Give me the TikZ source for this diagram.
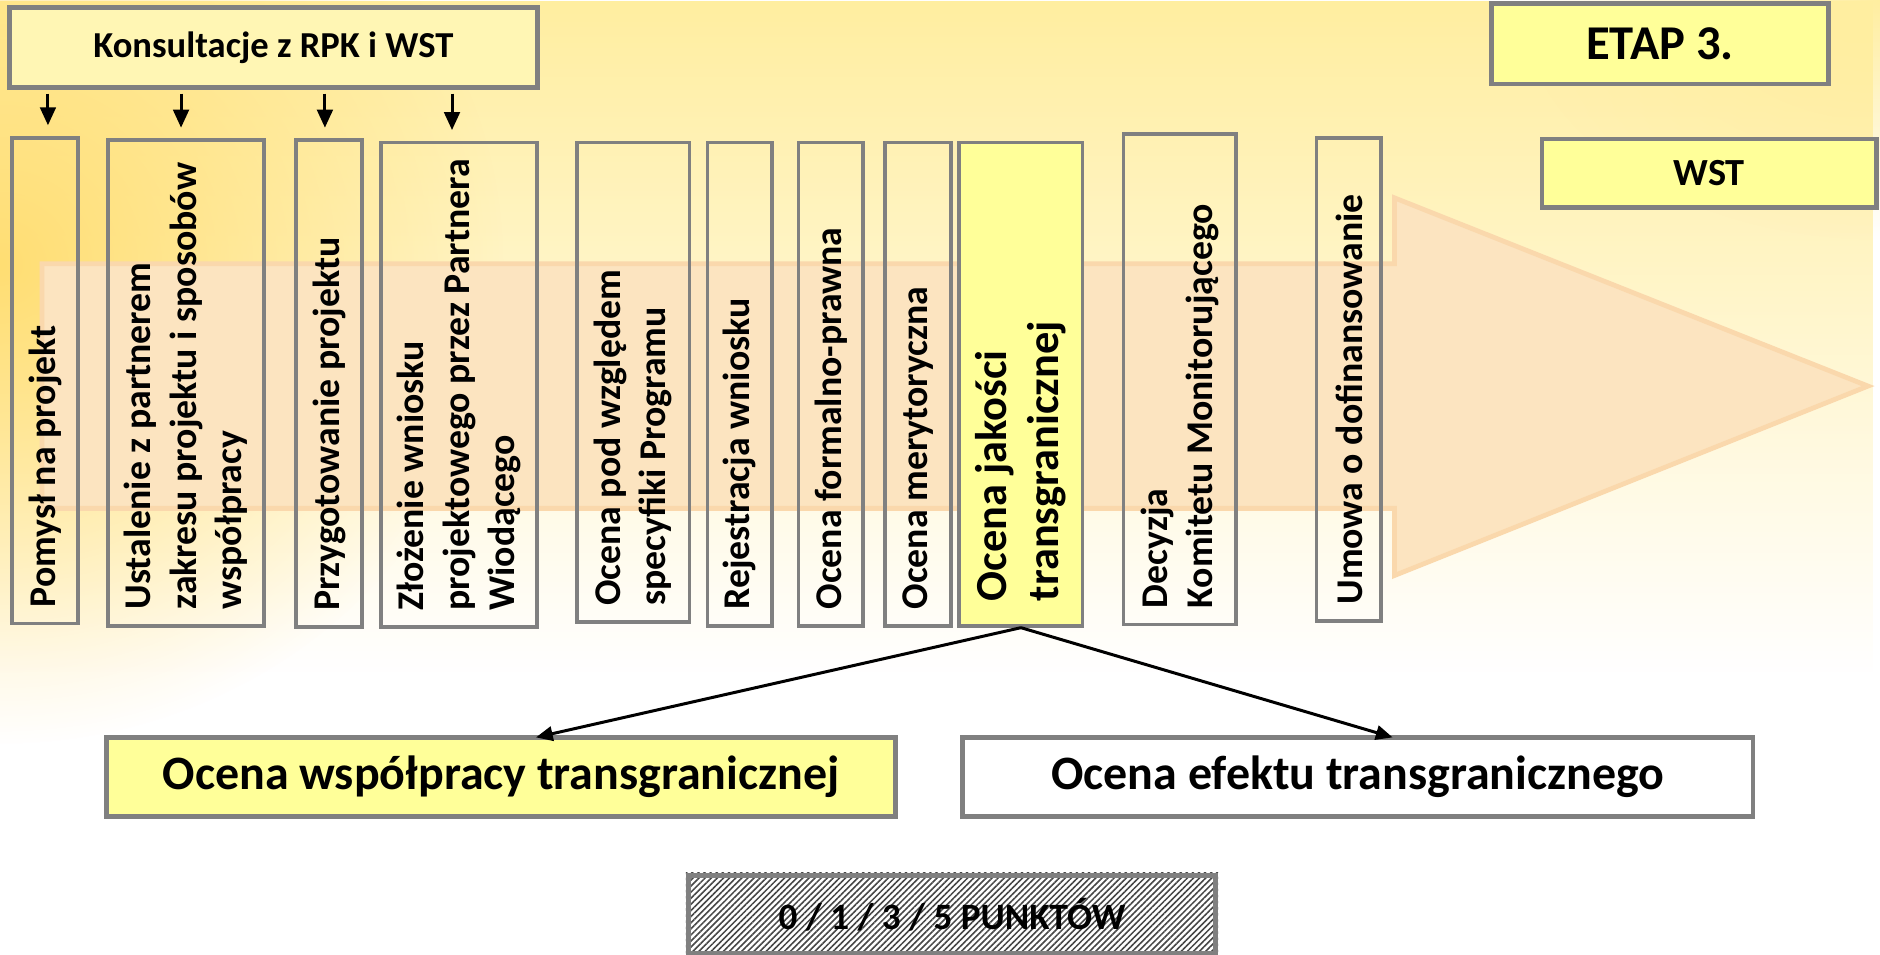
\documentclass[tikz,border=0pt]{standalone}
\usepackage{fontspec}
\setmainfont{Carlito}
\usetikzlibrary{arrows.meta,patterns.meta,fadings}
\definecolor{boxgray}{RGB}{128,128,128}
\definecolor{hiyellow}{RGB}{255,255,153}
\definecolor{konsfill}{RGB}{255,246,180}
\definecolor{arrfill}{RGB}{252,228,192}
\definecolor{arrline}{RGB}{250,216,172}
\definecolor{bgyellow}{RGB}{255,238,160}
\definecolor{bgdeep}{RGB}{255,222,115}
\definecolor{hatchgray}{RGB}{70,70,70}
\tikzfading[name=fadedown, top color=transparent!0, bottom color=transparent!100]
\tikzfading[name=fadeout, inner color=transparent!0, outer color=transparent!100]
\tikzset{
  vbox/.style={draw=boxgray, line width=3pt, rectangle, inner sep=0pt},
  hbox/.style={draw=boxgray, line width=4pt, rectangle, inner sep=0pt},
  vtext/.style={rotate=90, anchor=west, align=left, inner sep=0pt,
    font=\bfseries\fontsize{31.5}{38}\selectfont},
  vtextbig/.style={vtext, font=\bfseries\fontsize{37}{43}\selectfont},
  downarr/.style={line width=2.5pt, -{Triangle[length=15pt,width=13pt]},
    shorten <=3pt, shorten >=9pt},
  linkarr/.style={line width=2.5pt, -{Triangle[length=14pt,width=12pt]}},
}
\begin{document}
\begin{tikzpicture}[x=1pt,y=-1pt]
\useasboundingbox (0,0) rectangle (1568,796);
% background
\fill[white] (0,0) rectangle (1568,796);
\fill[bgyellow, path fading=fadedown] (0,0) rectangle (1568,560);
\fill[bgdeep, path fading=fadeout] (0,220) ellipse [x radius=420pt, y radius=400pt];
\fill[bgyellow, path fading=fadeout] (1568,0) ellipse [x radius=300pt, y radius=200pt];

% big arrow
\filldraw[fill=arrfill, draw=arrline, line width=4pt, line join=miter]
  (35,220) -- (1163,220) -- (1163,165) -- (1558,322) -- (1163,480)
  -- (1163,424) -- (35,424) -- cycle;

% top boxes
\node[hbox, fill=konsfill, minimum width=440pt, minimum height=67pt,
  font=\bfseries\fontsize{30.5}{36}\selectfont] (kons) at (228,39.5) {Konsultacje z RPK i WST};
\node[hbox, fill=hiyellow, minimum width=281pt, minimum height=67pt,
  font=\bfseries\fontsize{40.5}{48}\selectfont] (etap) at (1384.5,36.5) {ETAP 3.};
\node[hbox, fill=hiyellow, minimum width=279pt, minimum height=57pt,
  font=\bfseries\fontsize{32}{38}\selectfont] (wst) at (1425.5,144.5) {WST};

% vertical boxes
\node[vbox, minimum width=55pt, minimum height=405pt] (b1) at (37.5,317.5) {};
\node[vbox, minimum width=130pt, minimum height=405pt] (b2) at (155,319.5) {};
\node[vbox, minimum width=55pt, minimum height=406pt] (b3) at (274.5,320) {};
\node[vbox, minimum width=130pt, minimum height=404pt] (b4) at (383,321) {};
\node[vbox, minimum width=94pt, minimum height=400pt] (b5) at (528,319) {};
\node[vbox, minimum width=54pt, minimum height=403pt] (b6) at (617,320.5) {};
\node[vbox, minimum width=54pt, minimum height=403pt] (b7) at (693,320.5) {};
\node[vbox, minimum width=55pt, minimum height=403pt] (b8) at (765.5,320.5) {};
\node[vbox, fill=hiyellow, minimum width=103pt, minimum height=403pt] (b9) at (851.5,320.5) {};
\node[vbox, minimum width=94pt, minimum height=409pt] (b10) at (984,316.5) {};
\node[vbox, minimum width=54pt, minimum height=403pt] (b11) at (1125,316.5) {};

\node[vtext] (t1) at ([yshift=15pt]b1.south) {Pomysł na projekt};
\node[vtext] (t2) at ([yshift=15pt]b2.south) {Ustalenie z partnerem\\zakresu projektu i sposobów\\współpracy};
\node[vtext] (t3) at ([yshift=15pt]b3.south) {Przygotowanie projektu};
\node[vtext] (t4) at ([yshift=15pt]b4.south) {Złożenie wniosku\\projektowego przez Partnera\\Wiodącego};
\node[vtext] (t5) at ([yshift=15pt]b5.south) {Ocena pod względem\\specyfiki Programu};
\node[vtext] (t6) at ([yshift=15pt]b6.south) {Rejestracja wniosku};
\node[vtext] (t7) at ([yshift=15pt]b7.south) {Ocena formalno-prawna};
\node[vtext] (t8) at ([yshift=15pt]b8.south) {Ocena merytoryczna};
\node[vtextbig] (t9) at ([yshift=22pt]b9.south) {Ocena jakości\\transgranicznej};
\node[vtext] (t10) at ([yshift=15pt]b10.south) {Decyzja\\Komitetu Monitorującego};
\node[vtext] (t11) at ([yshift=15pt]b11.south) {Umowa o dofinansowanie};

% arrows from consultation box
\draw[downarr] ([xshift=2.5pt]b1.north |- kons.south) -- ([xshift=2.5pt]b1.north);
\draw[downarr] ([xshift=-4pt]b2.north |- kons.south) -- ([xshift=-4pt]b2.north);
\draw[downarr] ([xshift=-3.5pt]b3.north |- kons.south) -- ([xshift=-3.5pt]b3.north);
\draw[downarr] ([xshift=-6pt]b4.north |- kons.south) -- ([xshift=-6pt]b4.north);

% lower boxes
\node[hbox, fill=hiyellow, minimum width=658pt, minimum height=66pt,
  font=\bfseries\fontsize{40}{48}\selectfont] (wsp) at (418,648) {Ocena współpracy transgranicznej};
\node[hbox, fill=white, minimum width=659pt, minimum height=66pt,
  font=\bfseries\fontsize{40}{48}\selectfont] (efe) at (1132.5,648) {Ocena efektu transgranicznego};
\node[hbox, fill=white, minimum width=440pt, minimum height=65pt] (pktbg) at (794,762.5) {};
\fill[pattern={Lines[angle=45, distance=3.6pt, line width=1.3pt]}, pattern color=hatchgray]
  (pktbg.south west) rectangle (pktbg.north east);
\node[hbox, minimum width=440pt, minimum height=65pt,
  font=\bfseries\fontsize{31}{37}\selectfont] (pkt) at (794,762.5) {0 / 1 / 3 / 5 PUNKTÓW};

% links
\draw[linkarr] (b9.south) -- ([xshift=29pt, yshift=-2pt]wsp.north);
\draw[linkarr] (b9.south) -- ([xshift=29pt, yshift=-2pt]efe.north);
\end{tikzpicture}
\end{document}
